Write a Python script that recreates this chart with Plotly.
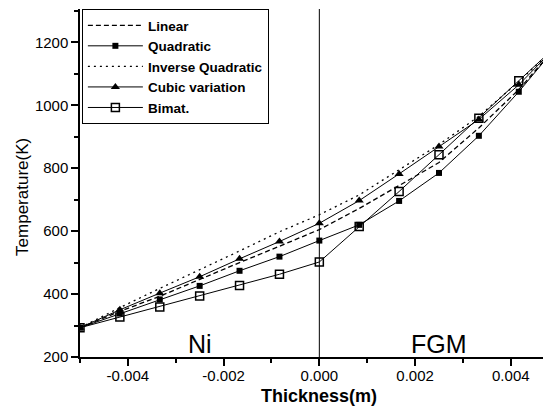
import plotly.graph_objects as go

thickness = [-0.005, -0.004167, -0.003333, -0.0025, -0.001667, -0.000833, 0.0,
             0.000833, 0.001667, 0.0025, 0.003333, 0.004167, 0.005]
linear = [293, 345, 393, 447, 500, 552, 605, 672, 744, 818, 928, 1050, 1195]
quadratic = [293, 338, 383, 426, 474, 519, 570, 620, 696, 785, 903, 1043, 1195]
inverse_quadratic = [293, 357, 418, 477, 537, 598, 652, 715, 795, 875, 965, 1075, 1195]
cubic = [293, 350, 403, 455, 512, 567, 625, 697, 782, 869, 955, 1065, 1195]
bimat = [293, 327, 359, 394, 427, 463, 502, 615, 726, 843, 959, 1078, 1195]

fig = go.Figure()
fig.add_trace(go.Scatter(x=thickness, y=linear, name="<b>Linear</b>", mode="lines",
                         line=dict(color="black", width=1.3, dash="5px,3px")))
fig.add_trace(go.Scatter(x=thickness, y=quadratic, name="<b>Quadratic</b>", mode="lines+markers",
                         line=dict(color="black", width=1),
                         marker=dict(symbol="square", size=6, color="black")))
fig.add_trace(go.Scatter(x=thickness, y=inverse_quadratic, name="<b>Inverse Quadratic</b>", mode="lines",
                         line=dict(color="black", width=1.3, dash="2px,4px")))
fig.add_trace(go.Scatter(x=thickness, y=cubic, name="<b>Cubic variation</b>", mode="lines+markers",
                         line=dict(color="black", width=1),
                         marker=dict(symbol="triangle-up", size=8, color="black")))
fig.add_trace(go.Scatter(x=thickness, y=bimat, name="<b>Bimat.</b>", mode="lines+markers",
                         line=dict(color="black", width=1),
                         marker=dict(symbol="square-open", size=8, color="black",
                                     line=dict(width=1.5))))

fig.add_shape(type="line", x0=0, x1=0, y0=0, y1=1, xref="x", yref="paper",
              line=dict(color="black", width=1))
fig.add_annotation(x=-0.0025, y=200, text="Ni", showarrow=False, yanchor="bottom",
                   yshift=-3, font=dict(size=25, color="black", family="Arial"))
fig.add_annotation(x=0.0025, y=200, text="FGM", showarrow=False, yanchor="bottom",
                   yshift=-3, font=dict(size=25, color="black", family="Arial"))
# axis titles
fig.add_annotation(x=0.0, xref="x", y=0, yref="paper", yshift=-39, yanchor="middle",
                   text="<b>Thickness(m)</b>", showarrow=False,
                   font=dict(size=18, color="black", family="Arial"))
fig.add_annotation(x=0, xref="paper", xshift=-57, xanchor="center",
                   y=0.46, yref="paper", yanchor="middle",
                   text="Temperature(K)", textangle=-90, showarrow=False,
                   font=dict(size=17, color="black", family="Arial"))

# page body has an 8px default margin, so the figure is 8px smaller than the window
fig.update_layout(
    width=543, height=403,
    margin=dict(l=72, r=0, t=1, b=54),
    paper_bgcolor="white", plot_bgcolor="white",
    font=dict(family="Arial", size=15, color="black"),
    showlegend=True,
    legend=dict(x=0.004, y=1.0, xanchor="left", yanchor="top",
                bgcolor="white", bordercolor="black", borderwidth=1,
                font=dict(size=13.5), tracegroupgap=0, itemwidth=55,
                traceorder="normal"),
    xaxis=dict(range=[-0.005, 0.00484], showgrid=False, zeroline=False,
               showline=True, linecolor="black", linewidth=1.5,
               ticks="outside", ticklen=7, tickwidth=1.5, tickcolor="black",
               tickvals=[-0.004, -0.002, 0.0, 0.002, 0.004],
               ticktext=["-0.004", "-0.002", "0.000", "0.002", "0.004"],
               minor=dict(dtick=0.001, tick0=-0.005, ticks="outside", ticklen=4, tickcolor="black"),
               ticklabelstandoff=-3,
               tickfont=dict(size=15)),
    yaxis=dict(range=[200, 1306], showgrid=False, zeroline=False,
               showline=True, linecolor="black", linewidth=1.5,
               ticks="outside", ticklen=7, tickwidth=1.5, tickcolor="black",
               tickvals=[200, 400, 600, 800, 1000, 1200],
               minor=dict(dtick=100, tick0=200, ticks="outside", ticklen=4, tickcolor="black"),
               tickfont=dict(size=15)),
)

fig.write_html("out.html")
